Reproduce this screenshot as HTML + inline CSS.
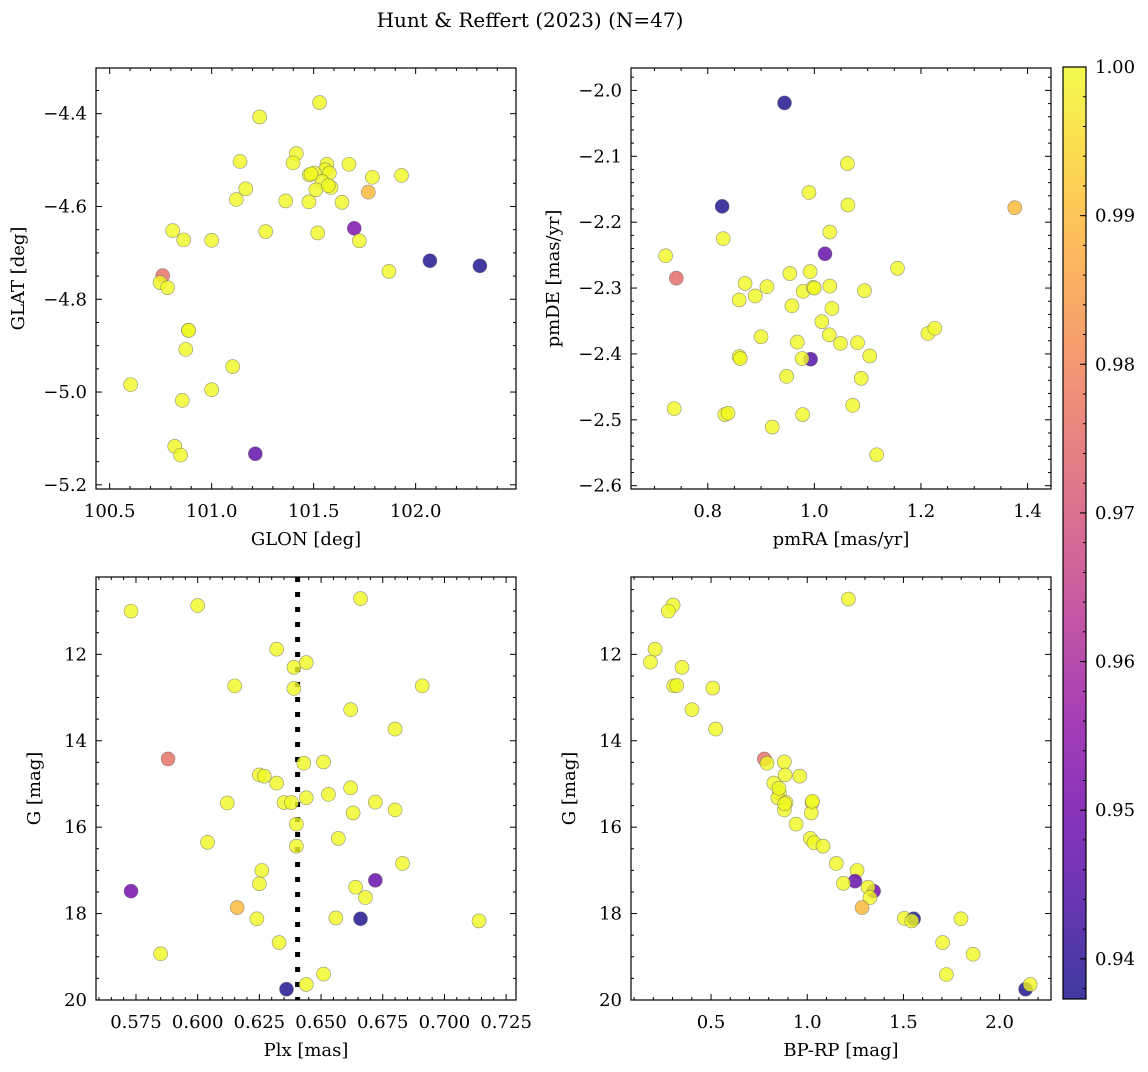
<!DOCTYPE html>
<html><head><meta charset="utf-8">
<style>
body{margin:0;background:#fff;}
svg text{font-family:"DejaVu Serif","Liberation Serif",serif;fill:#000;}
</style></head>
<body>
<svg id="fig" width="1148" height="1067" viewBox="0 0 1148 1067" xmlns="http://www.w3.org/2000/svg">
<rect width="1148" height="1067" fill="#fff"/>
<text x="530" y="27" font-size="20" text-anchor="middle">Hunt &amp; Reffert (2023) (N=47)</text>
</svg>
<script>
// Panel 1: GLON vs GLAT
const glon1=[101.529,101.235,101.415,101.399,101.139,101.673,101.565,101.557,101.479,101.503,101.577,101.788,101.931,101.541,101.585,101.511,101.167,101.121,101.363,101.477,101.639,101.768,101.265,101.520,101.699,101.724,100.809,100.863,101.000,102.070,102.315,101.869,100.760,100.747,100.784,100.886,100.887,100.873,101.103,100.603,101.000,100.856,100.819,100.848,101.214,101.572,101.487];
const glat1=[-4.376,-4.407,-4.486,-4.506,-4.503,-4.509,-4.509,-4.521,-4.532,-4.528,-4.528,-4.537,-4.533,-4.546,-4.559,-4.564,-4.562,-4.585,-4.588,-4.590,-4.591,-4.569,-4.654,-4.657,-4.647,-4.674,-4.652,-4.672,-4.673,-4.717,-4.728,-4.740,-4.749,-4.764,-4.775,-4.867,-4.867,-4.908,-4.945,-4.984,-4.995,-5.018,-5.117,-5.136,-5.133,-4.555,-4.530];
const prob1=[1,1,1,1,1,1,1,1,1,1,1,1,1,1,1,1,1,1,1,1,1,0.99,1,1,0.952,1,1,1,1,0.938,0.938,1,0.976,1,1,1,1,1,1,1,1,1,1,1,0.947,1,1];
// Panel 2: pmRA vs pmDE
const pmra2=[0.944,0.827,1.376,1.062,0.990,1.063,1.029,0.829,1.020,0.721,0.741,1.156,0.954,0.992,0.870,0.911,0.979,0.998,1.029,1.094,0.859,0.889,0.958,1.033,1.014,1.028,0.900,1.049,1.081,1.213,1.226,0.968,0.993,0.977,0.859,0.861,1.104,0.948,1.088,0.737,1.072,0.832,0.838,0.978,0.921,1.117,1.000];
const pmde2=[-2.019,-2.176,-2.178,-2.111,-2.155,-2.174,-2.215,-2.225,-2.248,-2.251,-2.285,-2.270,-2.278,-2.275,-2.293,-2.298,-2.305,-2.299,-2.297,-2.304,-2.318,-2.312,-2.327,-2.331,-2.351,-2.371,-2.374,-2.384,-2.383,-2.369,-2.361,-2.382,-2.408,-2.407,-2.404,-2.407,-2.403,-2.434,-2.437,-2.483,-2.478,-2.492,-2.490,-2.492,-2.511,-2.553,-2.300];
const prob2=[0.938,0.938,0.99,1,1,1,1,1,0.948,1,0.975,1,1,1,1,1,1,1,1,1,1,1,1,1,1,1,1,1,1,1,1,1,0.945,1,1,1,1,1,1,1,1,1,1,1,1,1,1];
// Panel 3: Plx vs G
const plx3=[0.573,0.600,0.666,0.632,0.639,0.644,0.615,0.639,0.691,0.662,0.680,0.588,0.643,0.651,0.625,0.627,0.632,0.662,0.653,0.635,0.638,0.644,0.672,0.612,0.663,0.680,0.640,0.657,0.604,0.640,0.683,0.626,0.672,0.625,0.573,0.664,0.668,0.616,0.624,0.656,0.666,0.714,0.633,0.585,0.651,0.644,0.636];
const g3=[11.00,10.87,10.71,11.88,12.30,12.19,12.73,12.79,12.73,13.28,13.73,14.42,14.52,14.49,14.79,14.82,14.98,15.09,15.24,15.43,15.43,15.32,15.42,15.44,15.67,15.60,15.93,16.26,16.35,16.44,16.84,17.00,17.23,17.31,17.48,17.39,17.63,17.86,18.12,18.10,18.12,18.17,18.67,18.93,19.40,19.64,19.75];
const prob3=[1,1,1,1,1,1,1,1,1,1,1,0.976,1,1,1,1,1,1,1,1,1,1,1,1,1,1,1,1,1,1,1,1,0.948,1,0.95,1,1,0.99,1,1,0.938,1,1,1,1,1,0.938];
const plxRef=0.6405;
// Panel 4: BP-RP vs G
const bprp4=[1.214,0.303,0.278,0.209,0.185,0.349,0.306,0.322,0.509,0.401,0.524,0.777,0.791,0.881,0.961,0.885,0.826,0.855,0.847,0.890,0.881,1.025,1.021,0.942,1.016,1.035,1.082,1.151,1.259,1.248,1.188,1.345,1.316,1.326,1.285,1.505,1.553,1.543,1.799,1.704,1.862,1.723,2.135,2.159,0.883,1.027,0.853];
const g4=[10.72,10.86,11.00,11.88,12.18,12.30,12.73,12.72,12.78,13.28,13.73,14.42,14.52,14.49,14.82,14.79,14.98,15.21,15.32,15.43,15.60,15.43,15.67,15.93,16.26,16.36,16.44,16.84,17.00,17.25,17.30,17.48,17.39,17.63,17.86,18.11,18.12,18.17,18.12,18.67,18.94,19.41,19.75,19.64,15.46,15.40,15.10];
const prob4=[1,1,1,1,1,1,1,1,1,1,1,0.976,1,1,1,1,1,1,1,1,1,1,1,1,1,1,1,1,1,0.948,1,0.95,1,1,0.99,1,0.938,1,1,1,1,1,0.938,1,1,1,1];
// Colorbar
const cbTicks=[0.94,0.95,0.96,0.97,0.98,0.99,1.00];
const cbMin=0.9373, cbMax=1.0;

const NS='http://www.w3.org/2000/svg';
const svg=document.getElementById('fig');
function mk(tag,attrs,parent){const e=document.createElementNS(NS,tag);for(const k in attrs)e.setAttribute(k,attrs[k]);(parent||svg).appendChild(e);return e;}
const stops=['#0d0887','#41049d','#6a00a8','#8f0da4','#b12a90','#cc4778','#e16462','#f2844b','#fca636','#fcce25','#f0f921'];
function hex(h){return [1,3,5].map(i=>parseInt(h.substr(i,2),16));}
function plasma(t){t=Math.max(0,Math.min(1,t));const s=t*10;const i=Math.min(9,Math.floor(s));const f=s-i;const a=hex(stops[i]),b=hex(stops[i+1]);return 'rgb('+a.map((v,k)=>Math.round(v+(b[k]-v)*f)).join(',')+')';}
function cmap(v){return plasma((v-cbMin)/(cbMax-cbMin));}
function fmt(v,d){return (v<0?'\u2212':'')+Math.abs(v).toFixed(d);}

function panel(o){
  const g=mk('g',{});
  
  
  const sx=v=>o.x0+(v-o.xd[0])/(o.xd[1]-o.xd[0])*(o.x1-o.x0);
  const sy=v=>o.yinv? o.y0+(v-o.yd[0])/(o.yd[1]-o.yd[0])*(o.y1-o.y0) : o.y1-(v-o.yd[0])/(o.yd[1]-o.yd[0])*(o.y1-o.y0);
  if(o.vline!==undefined){
    const l=mk('line',{x1:sx(o.vline),x2:sx(o.vline),y1:o.y0,y2:o.y1,stroke:'#000','stroke-width':5,'stroke-dasharray':'5,10'},g);
    
    
  }
  for(let i=0;i<o.xs.length;i++){
    const c=mk('circle',{cx:sx(o.xs[i]),cy:sy(o.ys[i]),r:7,fill:cmap(o.cs[i]),'fill-opacity':0.8,stroke:'#666','stroke-opacity':0.7,'stroke-width':0.6},g);
    
    
  }
  const fr=mk('rect',{x:o.x0,y:o.y0,width:o.x1-o.x0,height:o.y1-o.y0,fill:'none',stroke:'#000','stroke-width':1.2},g);
  
  
  const eps=1e-9;
  for(let v=Math.ceil(o.xd[0]/o.xmin-eps)*o.xmin; v<=o.xd[1]+eps; v+=o.xmin){
    const isMaj=Math.abs(v/o.xmaj-Math.round(v/o.xmaj))<1e-4;
    const L=isMaj?6:3,x=sx(v);
    mk('line',{x1:x,x2:x,y1:o.y1,y2:o.y1-L,stroke:'#000','stroke-width':1},g);
    mk('line',{x1:x,x2:x,y1:o.y0,y2:o.y0+L,stroke:'#000','stroke-width':1},g);
    if(isMaj){const t=mk('text',{x:x,y:o.y1+28,'font-size':18,'text-anchor':'middle'},g);t.textContent=fmt(v,o.xdec);
      
      }
  }
  for(let v=Math.ceil(o.yd[0]/o.ymin-eps)*o.ymin; v<=o.yd[1]+eps; v+=o.ymin){
    const isMaj=Math.abs(v/o.ymaj-Math.round(v/o.ymaj))<1e-4;
    const L=isMaj?6:3,y=sy(v);
    mk('line',{x1:o.x0,x2:o.x0+L,y1:y,y2:y,stroke:'#000','stroke-width':1},g);
    mk('line',{x1:o.x1,x2:o.x1-L,y1:y,y2:y,stroke:'#000','stroke-width':1},g);
    if(isMaj){const t=mk('text',{x:o.x0-9,y:y+6,'font-size':18,'text-anchor':'end'},g);t.textContent=fmt(v,o.ydec);
      
      }
  }
  const xl=mk('text',{x:(o.x0+o.x1)/2,y:o.y1+56,'font-size':18,'text-anchor':'middle'},g);xl.textContent=o.xlabel;
  
  
  const yx=o.x0-o.ylabOff, yc=(o.y0+o.y1)/2;
  const yl=mk('text',{x:yx,y:yc,'font-size':18,'text-anchor':'middle',transform:'rotate(-90 '+yx+' '+yc+')'},g);yl.textContent=o.ylabel;
  
  
}
panel({name:'glon-glat-panel',x0:96,x1:516,y0:68,y1:489,xd:[100.433,102.492],yd:[-5.209,-4.3015],xs:glon1,ys:glat1,cs:prob1,xmaj:0.5,xmin:0.1,ymaj:0.2,ymin:0.05,xdec:1,ydec:1,xlabel:'GLON [deg]',ylabel:'GLAT [deg]',ylabOff:72});
panel({name:'proper-motion-panel',x0:631,x1:1051,y0:68,y1:489,xd:[0.656,1.444],yd:[-2.605,-1.966],xs:pmra2,ys:pmde2,cs:prob2,xmaj:0.2,xmin:0.05,ymaj:0.1,ymin:0.02,xdec:1,ydec:1,xlabel:'pmRA [mas/yr]',ylabel:'pmDE [mas/yr]',ylabOff:72});
panel({name:'parallax-magnitude-panel',x0:96,x1:516,y0:577,y1:1000,xd:[0.5588,0.729],yd:[10.21,20.0],yinv:true,xs:plx3,ys:g3,cs:prob3,xmaj:0.025,xmin:0.005,ymaj:2,ymin:0.5,xdec:3,ydec:0,xlabel:'Plx [mas]',ylabel:'G [mag]',ylabOff:56,vline:plxRef});
panel({name:'color-magnitude-panel',x0:631,x1:1051,y0:577,y1:1000,xd:[0.084,2.267],yd:[10.21,20.0],yinv:true,xs:bprp4,ys:g4,cs:prob4,xmaj:0.5,xmin:0.1,ymaj:2,ymin:0.5,xdec:1,ydec:0,xlabel:'BP-RP [mag]',ylabel:'G [mag]',ylabOff:56});

// Colorbar
(function(){
  const x0=1063,x1=1086,y0=67,y1=999;
  const g=mk('g',{});
  
  
  const defs=mk('defs',{},svg);
  const lg=mk('linearGradient',{id:'cbg',x1:0,y1:1,x2:0,y2:0},defs);
  for(let i=0;i<=20;i++){mk('stop',{offset:i/20,'stop-color':plasma(i/20),'stop-opacity':0.8},lg);}
  mk('rect',{x:x0,y:y0,width:x1-x0,height:y1-y0,fill:'url(#cbg)',stroke:'#000','stroke-width':1.2},g);
  const sy=v=>y1-(v-cbMin)/(cbMax-cbMin)*(y1-y0);
  for(let k=Math.ceil(cbMin/0.002);k*0.002<=cbMax+1e-9;k++){
    const v=k*0.002,y=sy(v);mk('line',{x1:x1,x2:x1-3,y1:y,y2:y,stroke:'#000','stroke-width':1},g);
  }
  cbTicks.forEach(v=>{const y=sy(v);mk('line',{x1:x1,x2:x1-6,y1:y,y2:y,stroke:'#000','stroke-width':1},g);
    const t=mk('text',{x:x1+9,y:y+6,'font-size':18},g);t.textContent=v.toFixed(2);
    
    });
})();
</script>
</body></html>
